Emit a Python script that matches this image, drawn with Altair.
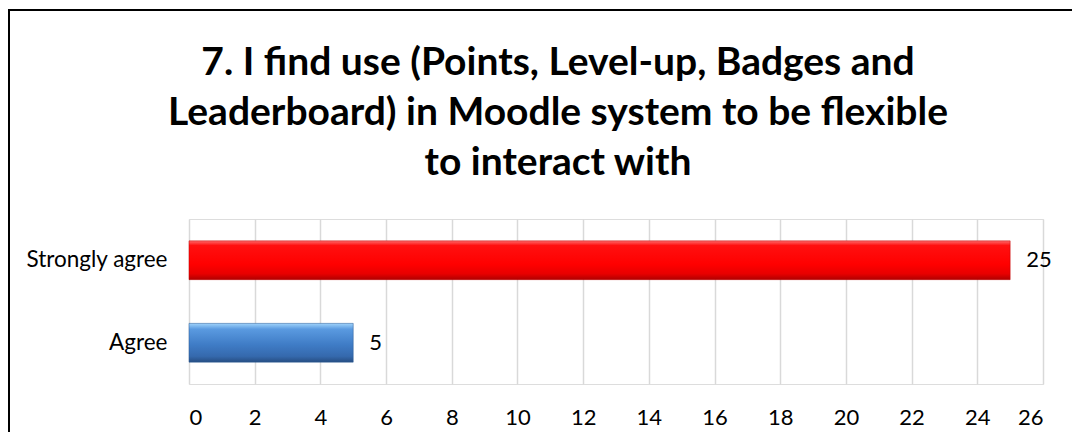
import altair as alt
import pandas as pd

categories = ["Strongly agree", "Agree"]
values = [25, 5]
x_ticks = list(range(0, 27, 2))
title_lines = [
    "7. I find use (Points, Level-up, Badges and",
    "Leaderboard) in Moodle system to be flexible",
    "to interact with",
]

df = pd.DataFrame({"category": categories, "value": values})

FONT = "Lato"

red_grad = alt.Gradient(
    gradient="linear", x1=0, x2=0, y1=0, y2=1,
    stops=[
        alt.GradientStop(color="#ff6a6a", offset=0),
        alt.GradientStop(color="#ff1010", offset=0.12),
        alt.GradientStop(color="#ff0000", offset=0.6),
        alt.GradientStop(color="#e80000", offset=0.85),
        alt.GradientStop(color="#b00000", offset=1),
    ],
)
blue_grad = alt.Gradient(
    gradient="linear", x1=0, x2=0, y1=0, y2=1,
    stops=[
        alt.GradientStop(color="#9fd3fb", offset=0),
        alt.GradientStop(color="#5a9ae0", offset=0.15),
        alt.GradientStop(color="#3f7cc6", offset=0.55),
        alt.GradientStop(color="#3569ad", offset=0.85),
        alt.GradientStop(color="#264e82", offset=1),
    ],
)

x_enc = alt.X(
    "value:Q",
    scale=alt.Scale(domain=[0, 26], nice=False),
    axis=alt.Axis(
        values=x_ticks, title=None, domain=False, ticks=False,
        labelFont=FONT, labelFontSize=22, labelColor="#000000",
        labelPadding=23, grid=True, gridColor="#d9d9d9", gridWidth=1.5,
    ),
)
y_enc = alt.Y(
    "category:N",
    sort=categories,
    scale=alt.Scale(paddingInner=0.53, paddingOuter=0.265),
    axis=alt.Axis(
        title=None, domain=False, ticks=False, grid=False,
        labelFont=FONT, labelFontSize=22.5, labelColor="#000000",
        labelPadding=22,
    ),
)

base = alt.Chart(df)

bar_red = base.transform_filter(alt.datum.category == categories[0]).mark_bar(
    color=red_grad, stroke="#c00000", strokeWidth=0.5
).encode(x=x_enc, y=y_enc)
bar_blue = base.transform_filter(alt.datum.category == categories[1]).mark_bar(
    color=blue_grad, stroke="#2a5a94", strokeWidth=0.5
).encode(x=x_enc, y=y_enc)

labels = base.mark_text(
    align="left", baseline="middle", dx=16, font=FONT, fontSize=22, color="#000000"
).encode(x="value:Q", y=alt.Y("category:N", sort=categories), text="value:Q")

border_left = base.mark_rule(color="#000000", strokeWidth=3).encode(
    x=alt.value(-180.5), y=alt.value(-210), y2=alt.value(240)
)
border_top = base.mark_rule(color="#000000", strokeWidth=2).encode(
    x=alt.value(-182), x2=alt.value(900), y=alt.value(-209)
)

chart = alt.layer(border_left, border_top, bar_red, bar_blue, labels).properties(
    width=854,
    height=165,
    autosize=alt.AutoSizeParams(type="none"),
    padding={"left": 181, "top": 211, "right": 29, "bottom": 48},
    title=alt.TitleParams(
        text=title_lines, font=FONT, fontSize=39, fontWeight="bold",
        color="#000000", lineHeight=50, anchor="middle", dx=-58, offset=0, dy=175,
    ),
).configure_view(stroke=None).configure(background="#ffffff")

chart.save("out.html", embed_options={"renderer": "svg", "actions": False})
